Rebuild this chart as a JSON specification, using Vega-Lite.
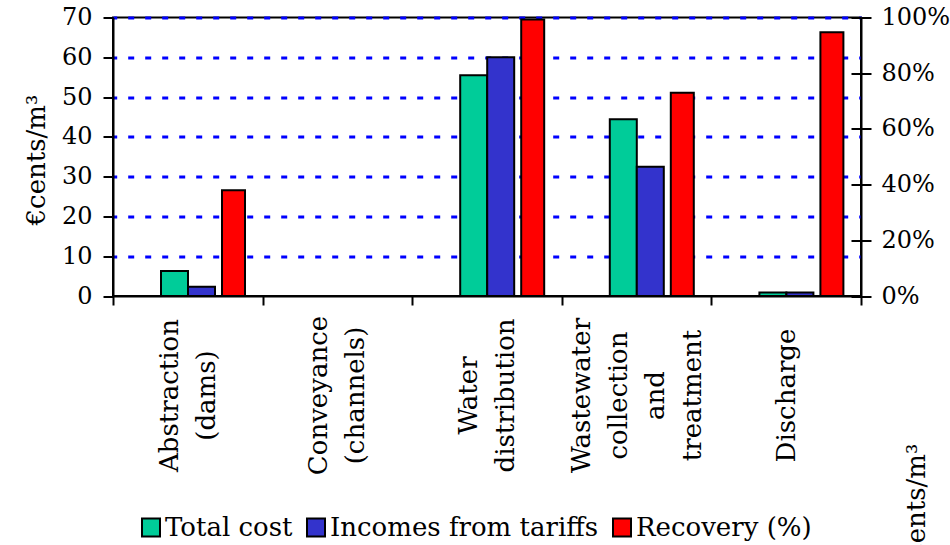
{
  "$schema": "https://vega.github.io/schema/vega-lite/v6.json",
  "autosize": {"type": "none"},
  "padding": {"left": 113, "top": 17.5, "right": 89, "bottom": 249},
  "width": 748,
  "height": 278.5,
  "background": "white",
  "config": {
    "font": "DejaVu Serif",
    "view": {"stroke": "black", "strokeWidth": 2},
    "axis": {
      "labelFont": "DejaVu Serif",
      "titleFont": "DejaVu Serif",
      "labelColor": "black",
      "titleColor": "black",
      "titleFontWeight": "normal",
      "domainColor": "black",
      "domainWidth": 2,
      "tickColor": "black",
      "tickWidth": 2
    },
    "legend": {
      "orient": "none",
      "legendX": 25,
      "legendY": 497,
      "direction": "horizontal",
      "padding": 0,
      "symbolType": "square",
      "symbolSize": 324,
      "symbolStrokeColor": "black",
      "symbolStrokeWidth": 2,
      "labelFont": "DejaVu Serif",
      "labelFontSize": 26,
      "labelColor": "black",
      "labelLimit": 0,
      "labelOffset": 1,
      "columnPadding": 10
    }
  },
  "data": {
    "values": [
      {"stage": "Abstraction (dams)", "series": "Total cost", "value": 6.3},
      {"stage": "Abstraction (dams)", "series": "Incomes from tariffs", "value": 2.3},
      {"stage": "Abstraction (dams)", "series": "Recovery (%)", "value": 38},
      {"stage": "Water distribution", "series": "Total cost", "value": 55.5},
      {"stage": "Water distribution", "series": "Incomes from tariffs", "value": 60.0},
      {"stage": "Water distribution", "series": "Recovery (%)", "value": 99.3},
      {"stage": "Wastewater collection and treatment", "series": "Total cost", "value": 44.4},
      {"stage": "Wastewater collection and treatment", "series": "Incomes from tariffs", "value": 32.5},
      {"stage": "Wastewater collection and treatment", "series": "Recovery (%)", "value": 73},
      {"stage": "Discharge", "series": "Total cost", "value": 0.9},
      {"stage": "Discharge", "series": "Incomes from tariffs", "value": 0.85},
      {"stage": "Discharge", "series": "Recovery (%)", "value": 94.7}
    ]
  },
  "encoding": {
    "x": {
      "field": "stage",
      "type": "nominal",
      "sort": null,
      "scale": {
        "domain": ["Abstraction (dams)", "Conveyance (channels)", "Water distribution", "Wastewater collection and treatment", "Discharge"],
        "paddingInner": 0,
        "paddingOuter": 0
      },
      "axis": {
        "title": null,
        "grid": false,
        "labelAngle": -90,
        "labelAlign": "center",
        "labelBaseline": "middle",
        "labelExpr": "split(datum.label, ' ')",
        "labelFontSize": 26,
        "labelLineHeight": 37,
        "labelPadding": 90,
        "labelLimit": 400,
        "labelOverlap": false,
        "labelOffset": {
          "condition": [
            {"test": "datum.value === 'Wastewater collection and treatment'", "value": -55.5},
            {"test": "datum.value === 'Abstraction (dams)' || datum.value === 'Conveyance (channels)' || datum.value === 'Water distribution'", "value": -18.5}
          ],
          "value": 0
        },
        "tickBand": "extent",
        "tickSize": 9
      }
    },
    "color": {
      "field": "series",
      "type": "nominal",
      "scale": {
        "domain": ["Total cost", "Incomes from tariffs", "Recovery (%)"],
        "range": ["#00CC99", "#3333CC", "#FF0000"]
      },
      "legend": {"title": null}
    }
  },
  "layer": [
    {
      "transform": [{"filter": "datum.series !== 'Recovery (%)'"}],
      "mark": {"type": "bar", "stroke": "black", "strokeWidth": 2},
      "encoding": {
        "xOffset": {
          "field": "series",
          "type": "nominal",
          "scale": {"domain": ["Total cost", "Incomes from tariffs"], "range": [48, 102], "paddingInner": 0, "paddingOuter": 0}
        },
        "y": {
          "field": "value",
          "type": "quantitative",
          "scale": {"domain": [0, 70], "nice": false},
          "axis": {
            "orient": "left",
            "values": [0, 10, 20, 30, 40, 50, 60, 70],
            "grid": true,
            "gridColor": {"condition": {"test": "datum.value === 0", "value": "transparent"}, "value": "#0000FF"},
            "gridWidth": 3,
            "gridDash": [6, 11],
            "gridDashOffset": 2.3,
            "tickSize": 10,
            "labelFontSize": 24,
            "labelPadding": 11,
            "title": "€cents/m³",
            "titleFontSize": 26,
            "titleAngle": -90,
            "titleX": -69,
            "titleY": 142,
            "titleAlign": "center",
            "titleBaseline": "alphabetic"
          }
        }
      }
    },
    {
      "transform": [{"filter": "datum.series === 'Recovery (%)'"}],
      "mark": {"type": "bar", "stroke": "black", "strokeWidth": 2},
      "encoding": {
        "xOffset": {
          "field": "series",
          "type": "nominal",
          "scale": {"domain": ["Recovery (%)"], "range": [109, 132], "paddingInner": 0, "paddingOuter": 0}
        },
        "y": {
          "field": "value",
          "type": "quantitative",
          "scale": {"domain": [0, 100], "nice": false},
          "axis": {
            "orient": "right",
            "values": [0, 20, 40, 60, 80, 100],
            "labelExpr": "datum.value + '%'",
            "grid": true,
            "gridColor": "black",
            "gridWidth": 2,
            "gridDash": [10, 3000],
            "tickSize": 10,
            "labelFontSize": 24,
            "labelPadding": 10,
            "title": "€cents/m³",
            "titleFontSize": 26,
            "titleAngle": -90,
            "titleX": 63,
            "titleY": 491,
            "titleAlign": "center",
            "titleBaseline": "alphabetic"
          }
        }
      }
    }
  ],
  "resolve": {"scale": {"y": "independent", "xOffset": "independent"}}
}
